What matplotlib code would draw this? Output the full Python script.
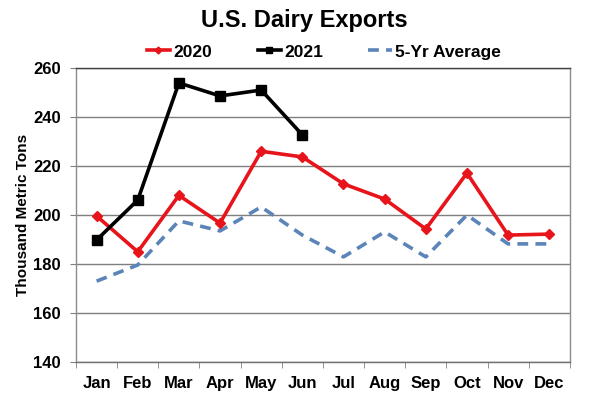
import matplotlib
matplotlib.use("Agg")
import matplotlib.pyplot as plt
from matplotlib.ticker import MultipleLocator, FixedLocator

plt.rcParams['font.family'] = ['Liberation Sans', 'DejaVu Sans']
plt.rcParams['font.weight'] = 'bold'

months = ["Jan", "Feb", "Mar", "Apr", "May", "Jun", "Jul", "Aug", "Sep", "Oct", "Nov", "Dec"]
y2020 = [199.6, 185.0, 208.0, 196.7, 226.0, 223.7, 212.7, 206.5, 194.3, 217.1, 191.8, 192.2]
y2021 = [189.8, 206.1, 253.9, 248.6, 251.0, 232.7]
avg5 = [173.0, 179.6, 197.6, 193.5, 203.3, 191.8, 182.9, 193.1, 182.9, 200.0, 188.2, 188.2]

fig = plt.figure(figsize=(6, 4), dpi=100)
ax = fig.add_axes([0.1267, 0.095, 0.823, 0.735])

x = list(range(len(months)))
ax.plot(x, y2020, color='#e8141b', lw=2.6, marker='D', ms=5, label='2020', zorder=3)
ax.plot(x[:len(y2021)], y2021, color='black', lw=2.6, marker='s', ms=6.5, label='2021', zorder=4)
ax.plot(x, avg5, color='#5b84b8', lw=2.6, ls=(0, (3, 2)), label='5-Yr Average', zorder=2)

ax.set_xlim(-0.5, 11.5)
ax.set_ylim(140, 260)
ax.yaxis.set_major_locator(MultipleLocator(20))
ax.set_xticks(x)
ax.set_xticklabels(months, fontsize=12, fontweight='bold')
ax.xaxis.set_minor_locator(FixedLocator([i - 0.5 for i in range(len(months) + 1)]))
ax.tick_params(axis='y', labelsize=12, length=4, color='#808080', pad=7)
ax.tick_params(axis='x', which='major', length=0, pad=10)
ax.tick_params(axis='x', which='minor', length=4, color='#808080')
for lab in ax.get_yticklabels():
    lab.set_fontweight('bold')
ax.grid(axis='y', color='#7f7f7f', lw=1.0)
ax.set_axisbelow(True)
for s in ax.spines.values():
    s.set_color('#8c8c8c')
    s.set_linewidth(1.0)
ax.spines['bottom'].set_color('#6f6f6f')
ax.spines['top'].set_color('#404040')
ax.set_ylabel('Thousand Metric Tons', fontsize=11, fontweight='bold', labelpad=2)

fig.text(0.508, 0.948, 'U.S. Dairy Exports', fontsize=17, fontweight='bold',
         ha='center', va='center')
fig.legend(loc='center', bbox_to_anchor=(0.54, 0.87), ncol=3, frameon=False,
           fontsize=12.5, handlelength=1.35, handletextpad=0.2, columnspacing=2.6,
           markerscale=0.7)

fig.savefig('out.png', dpi=100)
